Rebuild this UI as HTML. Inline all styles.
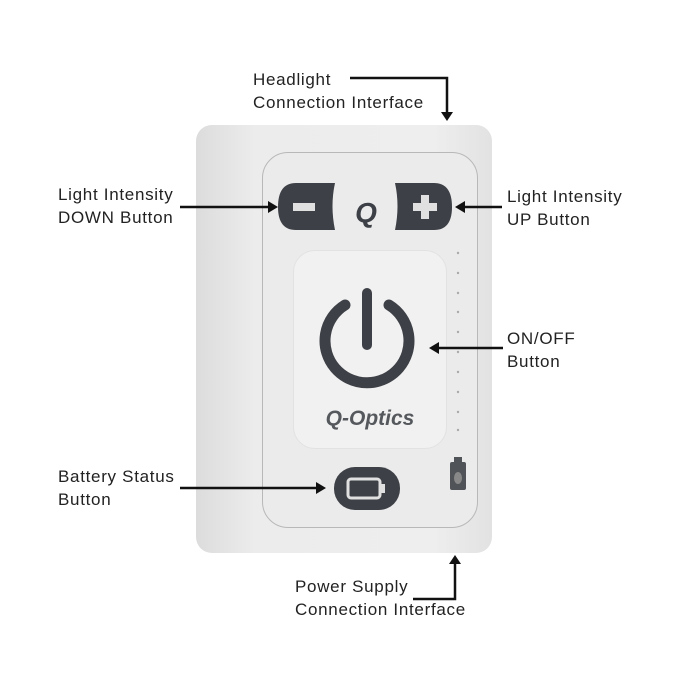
<!DOCTYPE html>
<html><head><style>
body{margin:0;width:700px;height:700px;background:#fff;position:relative;overflow:hidden;font-family:"Liberation Sans",sans-serif;}
.t{position:absolute;font-size:17px;letter-spacing:0.7px;line-height:23px;color:#222;}
.a{position:absolute;}
</style></head><body>
<div style="position:absolute;left:196px;top:125px;width:296px;height:428px;border-radius:16px;background:linear-gradient(90deg,#dcdcdc,#ececec 20%,#eeeeee 80%,#e2e2e2);"></div>
<div style="position:absolute;left:262px;top:152px;width:214px;height:374px;border-radius:26px;border:1.5px solid #b8b8b8;background:#ebebeb;"></div>
<div style="position:absolute;left:293px;top:250px;width:152px;height:197px;border-radius:22px;background:#f1f1f1;border:1px solid #e2e2e2;"></div>
<svg class="a" style="left:0;top:0" width="700" height="700">
<path d="M296 183 H335 Q330 206 335 230 H296 Q278 230 278 207 Q278 183 296 183Z" fill="#3d4046"/>
<rect x="293" y="203" width="22" height="8" fill="#e0e0e0"/>
<path d="M395 183 H434 Q452 183 452 207 Q452 230 434 230 H395 Q400 206 395 183Z" fill="#3d4046"/>
<rect x="413" y="203" width="24" height="8" fill="#e0e0e0"/><rect x="421" y="195" width="8" height="24" fill="#e0e0e0"/>
<text x="366" y="222" font-size="28" font-weight="bold" font-style="italic" fill="#3d4046" text-anchor="middle">Q</text>
<path d="M345 305 A42 42 0 1 0 389 305" fill="none" stroke="#3d4046" stroke-width="11" stroke-linecap="round"/>
<line x1="367" y1="293" x2="367" y2="345" stroke="#3d4046" stroke-width="10" stroke-linecap="round"/>
<text x="370" y="425" font-size="21" font-weight="bold" font-style="italic" fill="#55585c" text-anchor="middle">Q-Optics</text>
<rect x="334" y="467" width="66" height="43" rx="21" fill="#3d4046"/>
<rect x="348" y="479" width="32" height="19" rx="3" fill="none" stroke="#e0e0e0" stroke-width="3"/>
<rect x="380" y="484" width="5" height="9" fill="#e0e0e0"/>
<g fill="#aaa"><circle cx="458" cy="253" r="1.2"/><circle cx="458" cy="273" r="1.2"/><circle cx="458" cy="293" r="1.2"/><circle cx="458" cy="312" r="1.2"/><circle cx="458" cy="332" r="1.2"/><circle cx="458" cy="352" r="1.2"/><circle cx="458" cy="372" r="1.2"/><circle cx="458" cy="392" r="1.2"/><circle cx="458" cy="412" r="1.2"/><circle cx="458" cy="430" r="1.2"/></g>
<rect x="450" y="462" width="16" height="28" rx="2" fill="#505358"/><rect x="454" y="457" width="8" height="6" fill="#505358"/>
<ellipse cx="458" cy="478" rx="4" ry="6" fill="#888"/>
<g stroke="#111" stroke-width="2.5" fill="none">
<path d="M350 78 H447 V114"/>
<path d="M413 599 H455 V562"/>
<line x1="180" y1="207" x2="270" y2="207"/>
<line x1="462" y1="207" x2="502" y2="207"/>
<line x1="436" y1="348" x2="503" y2="348"/>
<line x1="180" y1="488" x2="318" y2="488"/>
</g>
<g fill="#111">
<path d="M441 112 L447 121 L453 112Z"/>
<path d="M449 564 L455 555 L461 564Z"/>
<path d="M268 201 L278 207 L268 213Z"/>
<path d="M465 201 L455 207 L465 213Z"/>
<path d="M439 342 L429 348 L439 354Z"/>
<path d="M316 482 L326 488 L316 494Z"/>
</g>
</svg>
<div class="t" style="left:253px;top:68px;">Headlight<br>Connection Interface</div>
<div class="t" style="left:58px;top:183px;">Light Intensity<br>DOWN Button</div>
<div class="t" style="left:507px;top:185px;">Light Intensity<br>UP Button</div>
<div class="t" style="left:507px;top:327px;">ON/OFF<br>Button</div>
<div class="t" style="left:58px;top:465px;">Battery Status<br>Button</div>
<div class="t" style="left:295px;top:575px;">Power Supply<br>Connection Interface</div>
</body></html>
